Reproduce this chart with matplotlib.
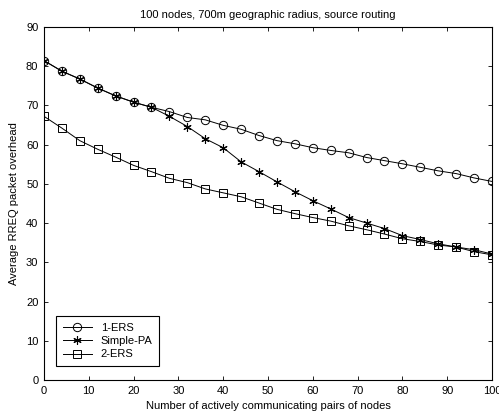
import matplotlib
matplotlib.use('Agg')
import matplotlib.pyplot as plt

plt.rcParams['font.family'] = ['Liberation Sans', 'DejaVu Sans']

pairs = list(range(0, 101, 4))

ers1 = [81.4, 78.7, 76.7, 74.4, 72.4, 70.8, 69.5, 68.4, 66.9, 66.3, 64.9, 63.9, 62.3,
        61.0, 60.2, 59.2, 58.5, 57.9, 56.7, 55.9, 55.1, 54.2, 53.3, 52.6, 51.5, 50.6]
simple_pa = [81.4, 78.7, 76.7, 74.4, 72.4, 70.8, 69.5, 67.2, 64.6, 61.5, 59.2, 55.6, 53.1,
             50.5, 48.0, 45.7, 43.6, 41.4, 40.0, 38.6, 36.8, 35.8, 34.7, 33.9, 33.2, 32.1]
ers2 = [67.2, 64.2, 61.0, 58.8, 56.8, 54.7, 53.1, 51.4, 50.3, 48.7, 47.7, 46.7, 45.1,
        43.5, 42.4, 41.4, 40.5, 39.3, 38.3, 37.2, 36.0, 35.3, 34.4, 33.9, 32.7, 31.9]

fig = plt.figure(figsize=(4.99, 4.19), dpi=100)
ax = fig.add_axes([0.088, 0.093, 0.898, 0.843])

ax.plot(pairs, ers1, color='black', lw=0.7, marker='o', ms=6, mfc='none',
        mec='black', mew=0.7, label='1-ERS')
ax.plot(pairs, simple_pa, color='black', lw=0.7, marker=(6, 2, 0), ms=6,
        mec='black', mew=0.8, label='Simple-PA')
ax.plot(pairs, ers2, color='black', lw=0.7, marker='s', ms=6, mfc='none',
        mec='black', mew=0.7, label='2-ERS')

ax.set_xlim(0, 100)
ax.set_ylim(0, 90)
ax.set_xticks(range(0, 101, 10))
ax.set_yticks(range(0, 91, 10))
ax.tick_params(direction='in', top=True, right=True, labelsize=8, length=3, width=0.6, pad=4)
for s in ax.spines.values():
    s.set_linewidth(0.8)

ax.set_title('100 nodes, 700m geographic radius, source routing', fontsize=8, pad=6)
ax.set_xlabel('Number of actively communicating pairs of nodes', fontsize=8, labelpad=4)
ax.set_ylabel('Average RREQ packet overhead', fontsize=8, labelpad=5)

leg = ax.legend(loc='lower left', bbox_to_anchor=(0.02, 0.03), fontsize=8,
                fancybox=False, framealpha=1, edgecolor='black',
                handlelength=2.6, borderpad=0.6, labelspacing=0.3,
                borderaxespad=0.3)
leg.get_frame().set_linewidth(0.8)

fig.savefig('out.png', dpi=100)
